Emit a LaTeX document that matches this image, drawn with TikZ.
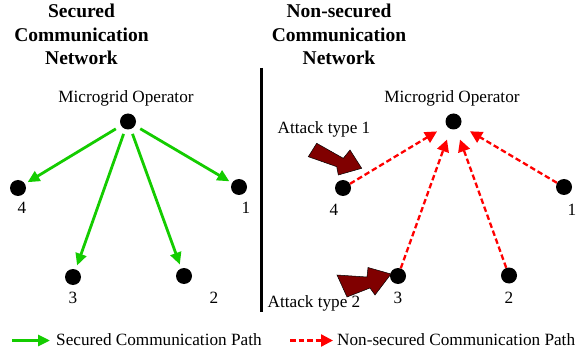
\documentclass[tikz,border=0pt]{standalone}
\usepackage{fontspec}
\setmainfont{Liberation Serif}
\usetikzlibrary{arrows.meta}
\definecolor{secgreen}{RGB}{20,204,0}
\definecolor{attackred}{RGB}{128,0,0}
\begin{document}
\begin{tikzpicture}[x=1pt,y=-1pt,
  dot/.style={circle, fill=black, inner sep=0pt, minimum size=16pt},
  lbl/.style={font=\fontsize{17.2}{20}\selectfont, inner sep=0pt, anchor=base},
  ttl/.style={font=\fontsize{19.5}{23.5}\selectfont\bfseries, inner sep=0pt, anchor=base},
  secarrow/.style={draw=secgreen, line width=2.8pt, -{Triangle[length=12pt,width=11pt]}},
  unsecarrow/.style={draw=red, line width=2.3pt, dash pattern=on 5.5pt off 3pt, -{Triangle[length=12pt,width=12pt]}},
  attack/.style={fill=attackred, draw=black, line width=0.5pt, line join=miter},
  divider/.style={draw=black, line width=2.5pt}]
\useasboundingbox (0,0) rectangle (578,358);

% titles
\node[ttl] (t1a) at (81.5,18) {Secured};
\node[ttl] (t1b) at (81.5,42) {Communication};
\node[ttl] (t1c) at (81.5,65) {Network};
\node[ttl] (t2a) at (339,18) {Non-secured};
\node[ttl] (t2b) at (339,42) {Communication};
\node[ttl] (t2c) at (339,65) {Network};

% divider
\coordinate (dtop) at (261.5,68);
\coordinate (dbot) at (261.5,312);
\draw[divider] (dtop) -- (dbot);

% left (secured) network
\node[dot] (opL) at (128,121.5) {};
\node[lbl] (opLl) at (126,103) {Microgrid Operator};
\node[dot] (L4) at (18,188) {};
\node[dot] (L1) at (239,187) {};
\node[dot] (L3) at (73,277) {};
\node[dot] (L2) at (184,276) {};
\node[lbl] (L4l) at (22,214) {4};
\node[lbl] (L1l) at (246,214) {1};
\node[lbl] (L3l) at (73,303) {3};
\node[lbl] (L2l) at (214,303) {2};
\draw[secarrow, shorten <=6pt, shorten >=3pt] (opL) -- (L4);
\draw[secarrow, shorten <=6pt, shorten >=3pt] (opL) -- (L1);
\draw[secarrow, shorten <=5pt, shorten >=4pt] (opL) -- (L3);
\draw[secarrow, shorten <=5pt, shorten >=4pt] (opL) -- (L2);

% right (non-secured) network
\node[dot] (opR) at (453.5,121.5) {};
\node[lbl] (opRl) at (452,103) {Microgrid Operator};
\node[dot] (R4) at (343,188) {};
\node[dot] (R1) at (564,187) {};
\node[dot] (R3) at (398,276) {};
\node[dot] (R2) at (509,275.5) {};
\node[lbl] (R4l) at (334,215) {4};
\node[lbl] (R1l) at (572,215) {1};
\node[lbl] (R3l) at (398,303) {3};
\node[lbl] (R2l) at (509,303) {2};
\draw[unsecarrow, shorten >=11pt] (R4) -- (opR);
\draw[unsecarrow, shorten >=11pt] (R1) -- (opR);
\draw[unsecarrow, shorten >=11pt] (R3) -- (opR);
\draw[unsecarrow, shorten >=11pt] (R2) -- (opR);

% attacks
\node[lbl] (at1) at (324,134) {Attack type 1};
\node[lbl] (at2) at (314,307) {Attack type 2};
\draw[attack] (316.7,143.3) -- (343.3,158.3) -- (350,150) -- (361.7,168.3)
  -- (338.3,175) -- (336.7,166.7) -- (308.3,156.7) -- cycle;
\draw[attack] (337,275) -- (367,277) -- (368,267.5) -- (391,274)
  -- (375,295) -- (370,288) -- (347,297) -- cycle;

% legend
\coordinate (lg1s) at (12,340.5);
\coordinate (lg1e) at (50,340.5);
\draw[secarrow] (lg1s) -- (lg1e);
\node[lbl, anchor=base west] (lg1t) at (56,345.5) {Secured Communication Path};
\coordinate (lg2s) at (290,340.5);
\coordinate (lg2e) at (333,340.5);
\draw[unsecarrow] (lg2s) -- (lg2e);
\node[lbl, anchor=base west] (lg2t) at (337,345.5) {Non-secured Communication Path};
\end{tikzpicture}
\end{document}
